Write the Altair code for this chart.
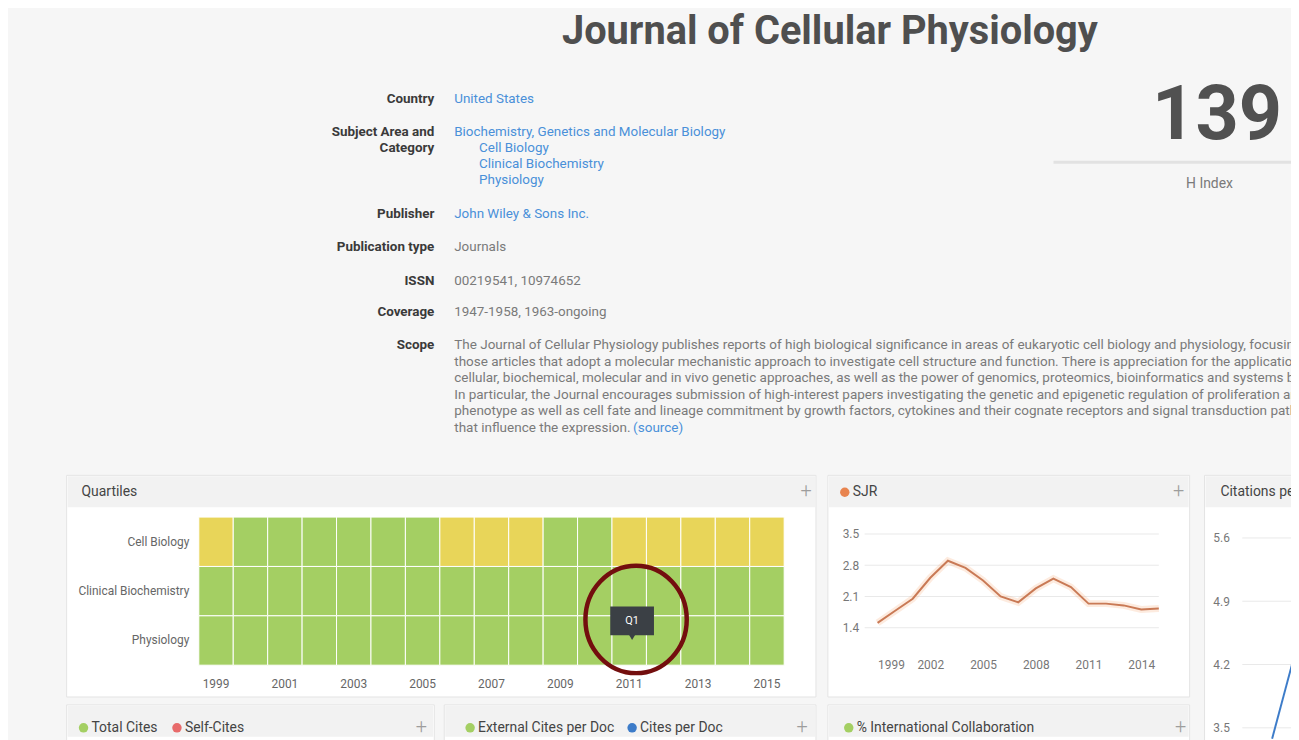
import altair as alt
import pandas as pd

# ------------------------------------------------------------------ data
journal_title = "Journal of Cellular Physiology"
info_labels = ["Country", "Subject Area and", "Category", "Publisher",
               "Publication type", "ISSN", "Coverage", "Scope"]
info_country = "United States"
info_area = "Biochemistry, Genetics and Molecular Biology"
info_categories = ["Cell Biology", "Clinical Biochemistry", "Physiology"]
info_publisher = "John Wiley & Sons Inc."
info_type = "Journals"
info_issn = "00219541, 10974652"
info_coverage = "1947-1958, 1963-ongoing"
scope_lines = [
    "The Journal of Cellular Physiology publishes reports of high biological significance in areas of eukaryotic cell biology and physiology, focusing on",
    "those articles that adopt a molecular mechanistic approach to investigate cell structure and function. There is appreciation for the application of",
    "cellular, biochemical, molecular and in vivo genetic approaches, as well as the power of genomics, proteomics, bioinformatics and systems biology.",
    "In particular, the Journal encourages submission of high-interest papers investigating the genetic and epigenetic regulation of proliferation and",
    "phenotype as well as cell fate and lineage commitment by growth factors, cytokines and their cognate receptors and signal transduction pathways",
    "that influence the expression.",
]
scope_source = "(source)"
h_index = "139"
h_index_label = "H Index"

years = list(range(1999, 2016))
categories = ["Cell Biology", "Clinical Biochemistry", "Physiology"]
q_cell_biology = ["Q2", "Q1", "Q1", "Q1", "Q1", "Q1", "Q1", "Q2", "Q2", "Q2",
                  "Q1", "Q1", "Q2", "Q2", "Q2", "Q2", "Q2"]
q_clinical_biochemistry = ["Q1"] * 17
q_physiology = ["Q1"] * 17
quartile_levels = ["Q1", "Q2", "Q3", "Q4"]
quartile_colors = ["#a4cf63", "#e8d559", "#fba353", "#dd5a4e"]
quartile_ticks = [1999, 2001, 2003, 2005, 2007, 2009, 2011, 2013, 2015]
tooltip_text = "Q1"

sjr_values = [1.51, 1.78, 2.05, 2.52, 2.90, 2.74, 2.46, 2.10, 1.97, 2.28,
              2.50, 2.31, 1.94, 1.94, 1.90, 1.81, 1.83]
sjr_x_ticks = [1999, 2002, 2005, 2008, 2011, 2014]
sjr_y_ticks = [1.4, 2.1, 2.8, 3.5]

cites_years = [1999, 2000]
cites_values = [3.38, 4.2]
cites_y_ticks = [3.5, 4.2, 4.9, 5.6]

panel_titles = ["Quartiles", "SJR", "Citations per document"]
bottom_titles = [["Total Cites", "Self-Cites"],
                 ["External Cites per Doc", "Cites per Doc"],
                 ["% International Collaboration"]]

# ------------------------------------------------------------------ layout helpers
W, H = 1291, 732          # chart canvas (page minus the 8px body margin)
FONT = "Roboto"
PAGE_BG = "#f6f6f6"
CARD_HEAD = "#f2f2f2"
CARD_LINE = "#e4e4e4"


def cx(px):
    return px - 8


def cy(py):
    return py - 8


def deco():
    return alt.Chart(alt.Data(values=[{}]))


def rect(x1, y1, x2, y2, fill, stroke=None):
    kw = dict(fill=fill)
    if stroke:
        kw.update(stroke=stroke, strokeWidth=1)
    return deco().mark_rect(**kw).encode(
        x=alt.value(cx(x1)), x2=alt.value(cx(x2)),
        y=alt.value(cy(y1)), y2=alt.value(cy(y2)))


def txt(s, x, y, size, color, weight="normal", align="left",
        baseline="middle", **kw):
    return deco().mark_text(text=s, align=align, baseline=baseline,
                            fontSize=size, color=color, fontWeight=weight,
                            font=FONT, **kw).encode(
        x=alt.value(cx(x)), y=alt.value(cy(y)))


def dot(x, y, color, size=90):
    return deco().mark_circle(size=size, color=color, opacity=1).encode(
        x=alt.value(cx(x)), y=alt.value(cy(y)))


def plus(x, y):
    return txt("+", x, y, 20, "#9d9d9d", weight=300, align="center")


def axis_style(**kw):
    base = dict(ticks=False, domain=False, grid=False, labelFontSize=12,
                labelColor="#777", labelFont=FONT, title=None, zindex=2)
    base.update(kw)
    return alt.Axis(**base)


layers = []

# ------------------------------------------------------------------ header text
layers.append(txt(journal_title, 835, 42, 40, "#4f4f4f", weight="bold",
                  align="center", baseline="alphabetic"))

LBL_X, VAL_X, SUB_X = 437, 457, 482
LBL_C, LINK_C, VAL_C = "#3a3a3a", "#4a90d9", "#7a7a7a"
row_y = {"Country": 97, "Subject Area and": 131, "Category": 147,
         "Publisher": 213, "Publication type": 246, "ISSN": 280,
         "Coverage": 312, "Scope": 345}
for lab in info_labels:
    layers.append(txt(lab, LBL_X, row_y[lab], 13.5, LBL_C, weight="bold",
                      align="right"))
layers.append(txt(info_country, VAL_X, 97, 13.5, LINK_C))
layers.append(txt(info_area, VAL_X, 131, 13.5, LINK_C))
for i, c in enumerate(info_categories):
    layers.append(txt(c, SUB_X, 147 + 16 * i, 13.5, LINK_C))
layers.append(txt(info_publisher, VAL_X, 213, 13.5, LINK_C))
layers.append(txt(info_type, VAL_X, 246, 13.5, VAL_C))
layers.append(txt(info_issn, VAL_X, 280, 13.5, VAL_C))
layers.append(txt(info_coverage, VAL_X, 312, 13.5, VAL_C))
layers.append(txt(scope_lines, VAL_X, 345, 13.6, VAL_C, lineHeight=16.6))
layers.append(txt(scope_source, VAL_X + 180, 345 + 5 * 16.6, 13.6, LINK_C))

# H index block
layers.append(txt(h_index, 1290, 138, 76, "#515151", weight="bold",
                  align="right", baseline="alphabetic"))
layers.append(deco().mark_rule(color="#e2e2e2", strokeWidth=3).encode(
    x=alt.value(cx(1060)), x2=alt.value(cx(1300)), y=alt.value(cy(161))))
layers.append(txt(h_index_label, 1217, 183, 14, "#7a7a7a", align="center"))

# ------------------------------------------------------------------ cards
cards = [(67, 476, 821, 699), (833, 476, 1197, 699), (1212, 476, 1320, 760),
         (67, 707, 437, 760), (447, 707, 821, 760), (833, 707, 1197, 760)]
for (x1, y1, x2, y2) in cards:
    layers.append(rect(x1, y1, x2, y2, "white", CARD_LINE))
    layers.append(rect(x1 + 1, y1 + 1, x2 - 1, min(y1 + 32, y2 - 1), CARD_HEAD))

layers.append(txt(panel_titles[0], 82, 493, 14, "#444"))
layers.append(plus(811, 492))
layers.append(dot(850, 493, "#e8844f"))
layers.append(txt(panel_titles[1], 858, 493, 14, "#444"))
layers.append(plus(1186, 492))
layers.append(txt(panel_titles[2], 1228, 493, 14, "#444"))

# bottom row headers
BT = 14
layers.append(dot(84, 730, "#a4cf63"))
layers.append(txt(bottom_titles[0][0], 92, 730, BT, "#444"))
layers.append(dot(178, 730, "#e86b6b"))
layers.append(txt(bottom_titles[0][1], 186, 730, BT, "#444"))
layers.append(plus(424, 729))
layers.append(dot(473, 730, "#a4cf63"))
layers.append(txt(bottom_titles[1][0], 481, 730, BT, "#444"))
layers.append(dot(636, 730, "#3d7cc9"))
layers.append(txt(bottom_titles[1][1], 644, 730, BT, "#444"))
layers.append(plus(807, 729))
layers.append(dot(854, 730, "#a4cf63"))
layers.append(txt(bottom_titles[2][0], 862, 730, BT, "#444"))
layers.append(plus(1188, 729))

# ------------------------------------------------------------------ quartile heatmap
qdf = pd.DataFrame({
    "year": years * 3,
    "category": [categories[0]] * 17 + [categories[1]] * 17 + [categories[2]] * 17,
    "quartile": q_cell_biology + q_clinical_biochemistry + q_physiology,
})
heat_x0, heat_x1, heat_y0, heat_y1 = 200, 789, 518, 667
heat = alt.Chart(qdf).mark_rect(stroke="white", strokeWidth=1).encode(
    x=alt.X("year:O",
            scale=alt.Scale(range=[cx(heat_x0), cx(heat_x1)],
                            paddingInner=0, paddingOuter=0),
            axis=axis_style(orient="bottom", offset=cy(heat_y1) - H,
                            values=quartile_ticks, labelAngle=0,
                            labelPadding=13, labelColor="#666")),
    y=alt.Y("category:N", sort=categories,
            scale=alt.Scale(range=[cy(heat_y0), cy(heat_y1)],
                            paddingInner=0, paddingOuter=0),
            axis=axis_style(orient="left", offset=-cx(heat_x0),
                            labelPadding=10, labelColor="#666")),
    color=alt.Color("quartile:N",
                    scale=alt.Scale(domain=quartile_levels,
                                    range=quartile_colors),
                    legend=None),
)
layers.append(heat)

# hover tooltip and hand-drawn circle
layers.append(rect(614, 608, 658, 637, "#3b4045"))
layers.append(deco().mark_point(shape="triangle-down", size=40, filled=True,
                                color="#3b4045", opacity=1).encode(
    x=alt.value(cx(636)), y=alt.value(cy(639))))
layers.append(txt(tooltip_text, 636, 623, 11, "white", align="center"))
ellipse = "M 0 -1 A 0.944 1 0 1 1 0 1 A 0.944 1 0 1 1 0 -1 Z"
layers.append(deco().mark_point(shape=ellipse, size=108 * 108, filled=False,
                                color="#730e0e", strokeWidth=4.5,
                                opacity=1).encode(
    x=alt.value(cx(640)), y=alt.value(cy(621))))

# ------------------------------------------------------------------ SJR line
sdf = pd.DataFrame({"year": years, "sjr": sjr_values})
sjr_x_scale = alt.Scale(domain=[1999, 2015], range=[cx(883), cx(1166)],
                        nice=False, zero=False)
sjr_y_scale = alt.Scale(domain=[1.4, 3.5], range=[cy(629.3), cy(535)],
                        nice=False, zero=False)
gdf = pd.DataFrame({"v": sjr_y_ticks})
layers.append(alt.Chart(gdf).mark_rule(color="#e9e9e9", strokeWidth=1).encode(
    y=alt.Y("v:Q", scale=sjr_y_scale, axis=None),
    x=alt.value(cx(870)), x2=alt.value(cx(1166))))
layers.append(alt.Chart(sdf).mark_line(color="#f5a26e", strokeWidth=7,
                                       opacity=0.22).encode(
    x=alt.X("year:Q", scale=sjr_x_scale, axis=None),
    y=alt.Y("sjr:Q", scale=sjr_y_scale, axis=None)))
layers.append(alt.Chart(sdf).mark_line(color="#c97a56", strokeWidth=2).encode(
    x=alt.X("year:Q", scale=sjr_x_scale,
            axis=axis_style(orient="bottom", offset=cy(655) - H,
                            values=sjr_x_ticks, format="d", labelPadding=6)),
    y=alt.Y("sjr:Q", scale=sjr_y_scale,
            axis=axis_style(orient="left", offset=-cx(868),
                            values=sjr_y_ticks, format=".1f",
                            labelPadding=4))))

# ------------------------------------------------------------------ citations (cut off)
cdf = pd.DataFrame({"year": cites_years, "cites": cites_values})
cit_x_scale = alt.Scale(domain=[1999, 2000], range=[cx(1280), cx(1300)],
                        nice=False, zero=False)
cit_y_scale = alt.Scale(domain=[3.5, 5.6], range=[cy(730), cy(539)],
                        nice=False, zero=False)
cgdf = pd.DataFrame({"v": cites_y_ticks})
layers.append(alt.Chart(cgdf).mark_rule(color="#e9e9e9", strokeWidth=1).encode(
    y=alt.Y("v:Q", scale=cit_y_scale, axis=None),
    x=alt.value(cx(1250)), x2=alt.value(cx(1300))))
layers.append(alt.Chart(cdf).mark_line(color="#3d7cc9", strokeWidth=2).encode(
    x=alt.X("year:Q", scale=cit_x_scale, axis=None),
    y=alt.Y("cites:Q", scale=cit_y_scale,
            axis=axis_style(orient="left", offset=-cx(1241),
                            values=cites_y_ticks, format=".1f",
                            labelPadding=4))))

chart = alt.layer(*layers).resolve_scale(
    x="independent", y="independent", color="independent"
).properties(
    width=W, height=H, background=PAGE_BG, padding=0,
    autosize=alt.AutoSizeParams(type="none"),
).configure_view(strokeWidth=0)

chart.save("out.html", embed_options={"renderer": "svg", "actions": False})
